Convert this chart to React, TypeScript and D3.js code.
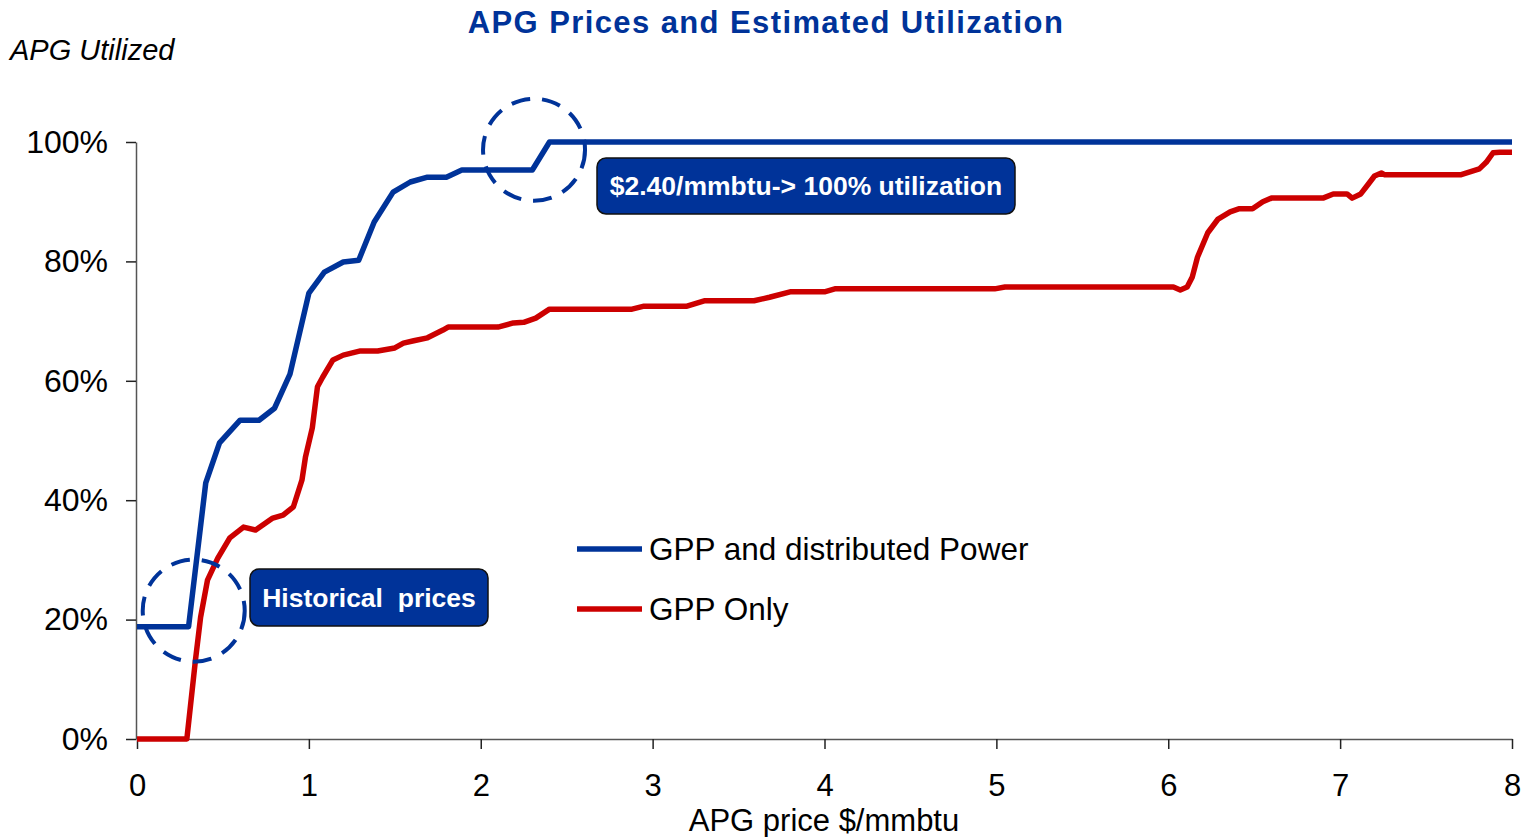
import React, { useEffect, useRef } from 'react';
import * as d3 from 'd3';

// APG price ($/mmbtu) and share utilized
const blueX = [0, 0.3, 0.4, 0.48, 0.6, 0.71, 0.8, 0.89, 1.0, 1.09, 1.2, 1.29, 1.38, 1.49, 1.59, 1.69, 1.8, 1.89, 2.3, 2.4, 8];
const blueY = [18.8, 18.8, 42.9, 49.6, 53.4, 53.4, 55.4, 61.1, 74.7, 78.2, 79.9, 80.2, 86.6, 91.6, 93.3, 94.1, 94.1, 95.3, 95.3, 100, 100];

const redX = [0, 0.19, 0.27, 0.29, 0.34, 0.37, 0.41, 0.47, 0.54, 0.62, 0.69, 0.79, 0.85, 0.91, 0.96, 0.98, 1.02, 1.05, 1.08, 1.14, 1.2, 1.3, 1.4, 1.5, 1.55, 1.61, 1.69, 1.78, 1.81, 2.1, 2.19, 2.25, 2.32, 2.4, 2.88, 2.95, 3.2, 3.3, 3.59, 3.68, 3.8, 4.0, 4.06, 4.99, 5.05, 6.03, 6.07, 6.11, 6.14, 6.17, 6.23, 6.29, 6.36, 6.41, 6.49, 6.55, 6.6, 6.9, 6.96, 7.04, 7.07, 7.12, 7.16, 7.2, 7.24, 7.26, 7.7, 7.81, 7.85, 7.89, 7.93, 8.0];
const redY = [0, 0, 0, 0, 13.2, 20.4, 26.6, 30.3, 33.7, 35.5, 35.0, 37.0, 37.5, 38.9, 43.4, 47.2, 52.1, 59.0, 60.6, 63.5, 64.3, 65.0, 65.0, 65.5, 66.3, 66.7, 67.2, 68.5, 69.0, 69.0, 69.7, 69.8, 70.5, 72.0, 72.0, 72.5, 72.5, 73.4, 73.4, 74.0, 74.9, 74.9, 75.4, 75.4, 75.7, 75.7, 75.2, 75.7, 77.4, 80.7, 84.8, 87.1, 88.3, 88.8, 88.8, 90.0, 90.6, 90.6, 91.3, 91.3, 90.6, 91.3, 92.8, 94.3, 94.8, 94.5, 94.5, 95.5, 96.6, 98.2, 98.3, 98.3];

const seriesNames = ['GPP and distributed Power', 'GPP Only'];
const xTicks = [0, 1, 2, 3, 4, 5, 6, 7, 8];
const yTicks = [0, 20, 40, 60, 80, 100];

const BLUE = '#003399';
const RED = '#cc0000';
const FONT = '"Liberation Sans", Arial, sans-serif';

const App = () => {
  const ref = useRef<SVGSVGElement>(null);

  useEffect(() => {
    const svg = d3.select(ref.current);
    svg.selectAll('*').remove();

    const x = d3.scaleLinear().domain([0, 8]).range([137, 1512]);
    const y = d3.scaleLinear().domain([0, 100]).range([739, 142]);

    // title and axis titles
    svg.append('text')
      .attr('x', 766).attr('y', 33)
      .attr('text-anchor', 'middle')
      .attr('font-family', FONT).attr('font-weight', 'bold').attr('font-size', 31)
      .attr('letter-spacing', 1.4)
      .attr('fill', BLUE)
      .text('APG Prices and Estimated Utilization');

    svg.append('text')
      .attr('x', 10).attr('y', 60)
      .attr('font-family', FONT).attr('font-style', 'italic').attr('font-size', 29)
      .attr('fill', '#000')
      .text('APG Utilized');

    svg.append('text')
      .attr('x', 824).attr('y', 831)
      .attr('text-anchor', 'middle')
      .attr('font-family', FONT).attr('font-size', 31)
      .text('APG price $/mmbtu');

    // axes
    const yAxis = svg.append('g')
      .attr('transform', `translate(${x(0) - 1},0)`)
      .call(d3.axisLeft(y).tickValues(yTicks).tickSize(10).tickPadding(18).tickSizeOuter(0).tickFormat(d => `${d}%`));
    yAxis.select('.domain').attr('stroke', '#555').attr('stroke-width', 1.5);
    yAxis.selectAll('.tick line').attr('stroke', '#222').attr('stroke-width', 1.5);
    yAxis.selectAll('.tick text').attr('font-family', FONT).attr('font-size', 32).attr('fill', '#000');

    const xAxis = svg.append('g')
      .attr('transform', `translate(0,${y(0)})`)
      .call(d3.axisBottom(x).tickValues(xTicks).tickSize(10).tickPadding(25).tickSizeOuter(0).tickFormat(d3.format('d')));
    xAxis.select('.domain').attr('stroke', '#555').attr('stroke-width', 1.5);
    xAxis.selectAll('.tick line').attr('stroke', '#222').attr('stroke-width', 1.5);
    xAxis.selectAll('.tick text').attr('font-family', FONT).attr('font-size', 31).attr('fill', '#000');

    const line = d3.line<[number, number]>()
      .x(d => x(d[0]))
      .y(d => y(d[1]));

    const redData = redX.map((v, i) => [v, redY[i]] as [number, number]);
    const blueData = blueX.map((v, i) => [v, blueY[i]] as [number, number]);

    svg.append('path')
      .datum(redData)
      .attr('d', line)
      .attr('fill', 'none').attr('stroke', RED).attr('stroke-width', 5.5)
      .attr('stroke-linejoin', 'round');

    svg.append('path')
      .datum(blueData)
      .attr('d', line)
      .attr('fill', 'none').attr('stroke', BLUE).attr('stroke-width', 5.5)
      .attr('stroke-linejoin', 'round');

    // dashed circles
    const circles = [[0.33, 21.5], [2.31, 98.7]];
    svg.selectAll('.ring')
      .data(circles)
      .enter()
      .append('circle')
      .attr('cx', d => x(d[0]))
      .attr('cy', d => y(d[1]))
      .attr('r', 51)
      .attr('fill', 'none').attr('stroke', BLUE).attr('stroke-width', 4)
      .attr('stroke-dasharray', '19 12');

    // annotation boxes
    const boxes = [
      { x: 250, y: 569, w: 238, h: 57, label: 'Historical\u00a0\u00a0prices' },
      { x: 597, y: 158, w: 418, h: 56, label: '$2.40/mmbtu-> 100% utilization' },
    ];
    boxes.forEach(b => {
      svg.append('rect')
        .attr('x', b.x).attr('y', b.y).attr('width', b.w).attr('height', b.h)
        .attr('rx', 9)
        .attr('fill', BLUE).attr('stroke', '#111').attr('stroke-width', 1.5);
      svg.append('text')
        .attr('x', b.x + b.w / 2).attr('y', b.y + b.h / 2 + 9)
        .attr('text-anchor', 'middle')
        .attr('font-family', FONT).attr('font-weight', 'bold').attr('font-size', 26.5)
        .attr('fill', '#fff')
        .text(b.label);
    });

    // legend
    const legend = svg.append('g');
    [BLUE, RED].forEach((c, i) => {
      const ly = 549 + i * 60;
      legend.append('line')
        .attr('x1', 577).attr('x2', 642).attr('y1', ly).attr('y2', ly)
        .attr('stroke', c).attr('stroke-width', 5.5);
      legend.append('text')
        .attr('x', 649).attr('y', ly + 11)
        .attr('font-family', FONT).attr('font-size', 31.5)
        .text(seriesNames[i]);
    });
  }, []);

  return (
    <svg ref={ref} width={1526} height={837}
      style={{ position: 'absolute', left: 0, top: 0, background: '#fff' }} />
  );
};

export default App;
